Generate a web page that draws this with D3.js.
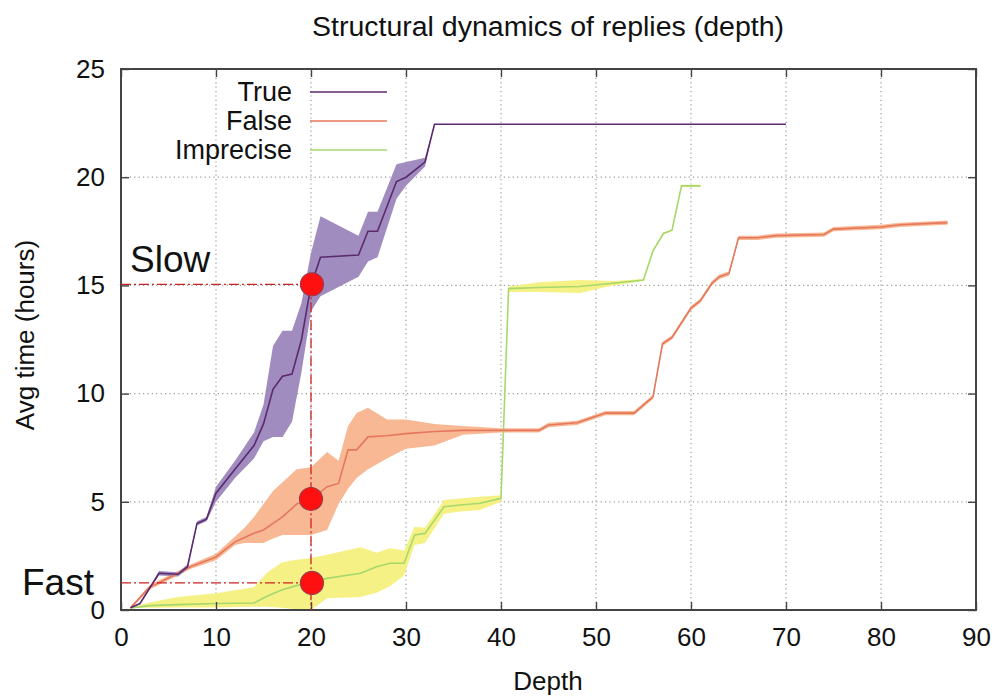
<!DOCTYPE html>
<html><head><meta charset="utf-8">
<script src="https://cdn.jsdelivr.net/npm/d3@7"></script>
<style>body{margin:0;background:#fff}svg{display:block}text{font-family:"Liberation Sans",Arial,sans-serif;fill:#111}</style>
</head><body><svg id="c" width="1000" height="698"></svg>
<script>
// ---- data ----
const xTicks = [0,10,20,30,40,50,60,70,80,90];
const yTicks = [0,5,10,15,20,25];
const seriesNames = ["True","False","Imprecise"];

const trueDepth = [1,2,4,6,7,8,9,10,12,14,15,16,17,18,19,20,21,25,26,27,29,30,32,33,70];
const trueMean  = [0.1,0.3,1.7,1.65,2.0,4.0,4.2,5.4,6.5,7.6,8.6,10.2,10.8,10.9,12.5,15.0,16.3,16.4,17.5,17.5,19.8,20.0,20.7,22.45,22.45];
const trueLo    = [0.1,0.3,1.6,1.55,1.9,3.9,4.1,5.0,6.1,7.0,7.8,8.0,8.0,8.7,11.0,13.8,14.5,15.4,16.1,16.3,19.0,19.6,20.5,22.45,22.45];
const trueHi    = [0.1,0.3,1.8,1.75,2.1,4.1,4.3,5.7,6.9,8.2,9.5,12.2,12.9,12.9,14.2,16.5,18.2,17.3,18.4,18.4,20.6,20.7,20.9,22.45,22.45];

const falseDepth = [1,3,6,7.3,10,12,13,14,15,16,17,18.5,20,21.7,22.9,23.9,24.8,26,28,30,33,36,40,44,45,48,50,51,54,56,57,58,60,61,62.2,63,64,65,67,69,74,75,80,82,87];
const falseMean  = [0.1,1.05,1.7,2.0,2.45,3.15,3.35,3.55,3.7,4.0,4.3,4.9,5.1,5.7,5.85,7.4,7.4,8.0,8.05,8.15,8.25,8.3,8.3,8.3,8.55,8.65,8.95,9.1,9.1,9.85,12.3,12.6,13.95,14.3,15.1,15.4,15.55,17.2,17.2,17.3,17.35,17.6,17.7,17.8,17.9];
const falseLo    = [0.05,0.95,1.6,1.9,2.3,3.0,3.1,3.1,3.1,3.3,3.47,3.47,3.47,3.7,4.9,5.6,6.1,6.5,7.0,7.45,7.6,8.1,8.2,8.2,8.45,8.55,8.85,9.0,9.0,9.75,12.2,12.5,13.85,14.2,15.0,15.3,15.45,17.1,17.1,17.2,17.25,17.5,17.6,17.7,17.8];
const falseHi    = [0.15,1.15,1.8,2.1,2.6,3.4,3.8,4.3,4.9,5.5,5.9,6.5,6.6,7.3,6.9,8.5,9.1,9.35,8.8,8.8,8.6,8.5,8.4,8.4,8.65,8.75,9.05,9.2,9.2,9.95,12.4,12.7,14.05,14.4,15.2,15.5,15.65,17.3,17.3,17.4,17.45,17.7,17.8,17.9,18.0];

const impDepth = [1,3,6,10,14,15.3,16.9,18.1,20,21.7,25.2,26.9,28.3,29.8,30.9,32,34,35.7,37.8,40,40.8,44,48.3,51.8,55,56,57.1,58,59,61];
const impMean  = [0.1,0.2,0.25,0.3,0.32,0.62,0.92,1.08,1.3,1.46,1.7,2.0,2.16,2.16,3.47,3.54,4.77,4.85,4.93,5.16,14.85,14.9,14.95,15.1,15.25,16.6,17.4,17.55,19.6,19.6];
const impLo    = [0.1,0.1,0.12,0.12,0.15,0.15,0.1,0.05,0.0,0.54,0.6,0.8,1.1,1.6,3.0,3.1,4.45,4.55,4.62,5.0,14.7,14.7,14.65,15.0,15.2,16.55,17.35,17.5,19.55,19.55];
const impHi    = [0.1,0.35,0.6,0.77,1.05,1.7,2.2,2.3,2.4,2.55,2.9,2.65,2.85,2.75,3.85,3.8,5.08,5.15,5.23,5.3,14.95,15.15,15.25,15.2,15.3,16.65,17.45,17.6,19.65,19.65];

const markDepth = [20.1,20.0,20.1];
const markValue = [15.05,5.13,1.25];
const markLabels = ["Slow","Fast"];

// ---- chart ----
const svg = d3.select("#c");
const L=121,R=976,T=69,B=610;
const x = d3.scaleLinear().domain([0,90]).range([L,R]);
const y = d3.scaleLinear().domain([0,25]).range([B,T]);

function rows(d,m,lo,hi){return d.map((v,i)=>({d:v,m:m[i],lo:lo[i],hi:hi[i]}));}
const series = [
 {name:seriesNames[0], data:rows(trueDepth,trueMean,trueLo,trueHi), line:"#5b2a6e", band:"#9b86ba", bandOp:1},
 {name:seriesNames[1], data:rows(falseDepth,falseMean,falseLo,falseHi), line:"#e5775d", band:"#f8b48d", bandOp:1},
 {name:seriesNames[2], data:rows(impDepth,impMean,impLo,impHi), line:"#a6d86c", band:"#f4f07e", bandOp:1}
];

svg.append("defs").append("clipPath").attr("id","clip").append("rect")
  .attr("x",L).attr("y",T).attr("width",R-L).attr("height",B-T);

// grid
const grid = svg.append("g").attr("stroke","#9a9a9a").attr("stroke-width",1.2).attr("stroke-dasharray","1.2,3.2");
grid.selectAll(".gx").data(xTicks.slice(1,-1)).join("line")
  .attr("x1",d=>x(d)).attr("x2",d=>x(d)).attr("y1",T).attr("y2",B);
grid.selectAll(".gy").data(yTicks.slice(1,-1)).join("line")
  .attr("y1",d=>y(d)).attr("y2",d=>y(d)).attr("x1",L).attr("x2",R);

const plot = svg.append("g").attr("clip-path","url(#clip)");
const area = d3.area().x(d=>x(d.d)).y0(d=>y(d.lo)).y1(d=>y(d.hi));
const line = d3.line().x(d=>x(d.d)).y(d=>y(d.m));
// bands in order: imprecise, false, true
[2,1,0].forEach(i=>{
  plot.append("path").datum(series[i].data).attr("d",area).attr("fill",series[i].band).attr("opacity",0.95);
});
[2,1,0].forEach(i=>{
  plot.append("path").datum(series[i].data).attr("d",line).attr("fill","none")
    .attr("stroke",series[i].line).attr("stroke-width",1.6);
});

// axes: inward ticks with mirror
const fs = 26;
const axB = d3.axisBottom(x).tickValues(xTicks).tickSize(-8).tickPadding(18);
const axT = d3.axisTop(x).tickValues(xTicks).tickSize(-8).tickFormat("");
const axL = d3.axisLeft(y).tickValues(yTicks).tickSize(-8).tickPadding(16);
const axR = d3.axisRight(y).tickValues(yTicks).tickSize(-8).tickFormat("");
function style(g){g.select(".domain").remove();g.selectAll("line").attr("stroke","#444").attr("stroke-width",1.4);
  g.selectAll("text").attr("font-size",fs).attr("fill","#111").style("font-family","'Liberation Sans',Arial,sans-serif");}
svg.append("g").attr("transform",`translate(0,${B})`).call(axB).call(style);
svg.append("g").attr("transform",`translate(0,${T})`).call(axT).call(style);
svg.append("g").attr("transform",`translate(${L},0)`).call(axL).call(style);
svg.append("g").attr("transform",`translate(${R},0)`).call(axR).call(style);
svg.append("rect").attr("x",L).attr("y",T).attr("width",R-L).attr("height",B-T)
  .attr("fill","none").attr("stroke","#444").attr("stroke-width",2);

// reference dash-dot lines
const ref = svg.append("g").attr("stroke","#cc2222").attr("stroke-width",1.3).attr("stroke-dasharray","10,3,2,3").attr("fill","none");
ref.append("line").attr("x1",L).attr("x2",x(markDepth[0])).attr("y1",y(markValue[0])).attr("y2",y(markValue[0]));
ref.append("line").attr("x1",L).attr("x2",x(markDepth[2])).attr("y1",y(markValue[2])).attr("y2",y(markValue[2]));
ref.append("line").attr("x1",x(20)).attr("x2",x(20)).attr("y1",y(markValue[0])).attr("y2",B);

svg.selectAll(".mk").data(markDepth.map((d,i)=>({d,v:markValue[i]}))).join("circle")
  .attr("cx",d=>x(d.d)).attr("cy",d=>y(d.v)).attr("r",11.5)
  .attr("fill","#ff1010").attr("stroke","#9a3a4a").attr("stroke-width",1.2);

svg.append("text").attr("x",130).attr("y",272).attr("font-size",37).text(markLabels[0]);
svg.append("text").attr("x",22).attr("y",595).attr("font-size",37).text(markLabels[1]);

// legend
series.forEach((s,i)=>{
  const yy = 92 + i*29;
  svg.append("text").attr("x",292).attr("y",yy+9).attr("text-anchor","end").attr("font-size",27).text(s.name);
  svg.append("line").attr("x1",310).attr("x2",387).attr("y1",yy).attr("y2",yy).attr("stroke",s.line).attr("stroke-width",1.6);
});

// titles
svg.append("text").attr("x",548).attr("y",36).attr("text-anchor","middle").attr("font-size",27)
  .attr("textLength",472).attr("lengthAdjust","spacingAndGlyphs").text("Structural dynamics of replies (depth)");
svg.append("text").attr("x",548).attr("y",690).attr("text-anchor","middle").attr("font-size",26).text("Depth");
svg.append("text").attr("transform","translate(34,335) rotate(-90)").attr("text-anchor","middle").attr("font-size",26).text("Avg time (hours)");
</script></body></html>
